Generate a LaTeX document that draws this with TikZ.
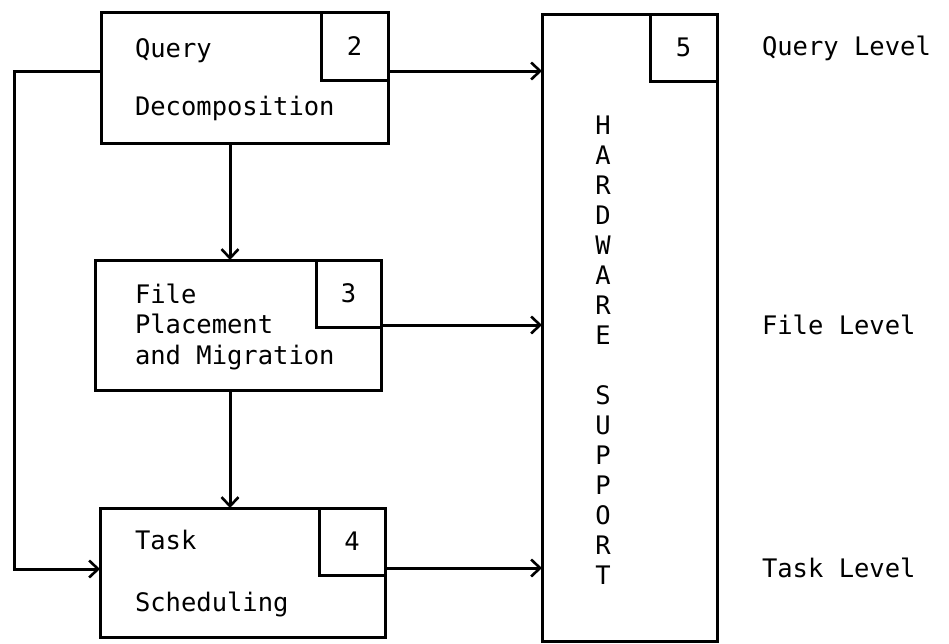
\documentclass[tikz,border=0pt]{standalone}
\usepackage{fontspec}
\setmonofont{DejaVu Sans Mono}
\usetikzlibrary{arrows.meta}
\begin{document}
\begin{tikzpicture}[x=1pt,y=-1pt,
  every node/.style={font=\ttfamily\fontsize{25.5}{30}\selectfont},
  box/.style={draw, line width=3pt, rectangle, inner sep=0pt, outer sep=0pt},
  lbl/.style={anchor=base west, inner sep=0pt, outer sep=0pt},
  conn/.style={line width=3pt, -{Straight Barb[length=9pt,width=17pt,line width=2.6pt]}}
]
\useasboundingbox (0,0) rectangle (949,643);
% main boxes
\node[box, minimum width=287pt, minimum height=131pt] (q) at (244.5,77.5) {};
\node[box, minimum width=67pt, minimum height=68pt] (qn) at (354.5,46) {2};
\node[box, minimum width=286pt, minimum height=130pt] (f) at (238,325) {};
\node[box, minimum width=65pt, minimum height=67pt] (fn) at (348.5,293.5) {3};
\node[box, minimum width=285pt, minimum height=129pt] (t) at (242.5,572.5) {};
\node[box, minimum width=66pt, minimum height=67pt] (tn) at (352,541.5) {4};
\node[box, minimum width=175pt, minimum height=627pt] (hw) at (629.5,327.5) {};
\node[box, minimum width=67pt, minimum height=67pt] (hwn) at (683.5,47.5) {5};
% texts
\node[lbl] (qt1) at (135,57) {Query};
\node[lbl] (qt2) at (135,115) {Decomposition};
\node[lbl] (ft1) at (135,303) {File};
\node[lbl] (ft2) at (135,333) {Placement};
\node[lbl] (ft3) at (135,364) {and Migration};
\node[lbl] (tt1) at (135,549) {Task};
\node[lbl] (tt2) at (135,611) {Scheduling};
\node[align=center, inner sep=0pt] (hwt) at (603,350)
  {H\\A\\R\\D\\W\\A\\R\\E\\[30pt]S\\U\\P\\P\\O\\R\\T};
\node[lbl] (lq) at (762,55) {Query Level};
\node[lbl] (lf) at (762,334) {File Level};
\node[lbl] (lt) at (762,577) {Task Level};
% connectors
\coordinate (lx) at (14,0);
\draw[conn] ([yshift=6.5pt]q.east) -- ([yshift=6.5pt]q.east -| hw.west);
\draw[conn] (f.east) -- (f.east -| hw.west);
\draw[conn] ([yshift=4.5pt]t.east) -- ([yshift=4.5pt]t.east -| hw.west);
\draw[conn] ([xshift=-14.5pt]q.south) -- ([xshift=-14.5pt]q.south |- f.north);
\draw[conn] ([xshift=-8pt]f.south) -- ([xshift=-8pt]f.south |- t.north);
\draw[conn] ([yshift=6.5pt]q.west) -| ([yshift=3.5pt]t.west -| lx) -- ([yshift=3.5pt]t.west);
\end{tikzpicture}
\end{document}
